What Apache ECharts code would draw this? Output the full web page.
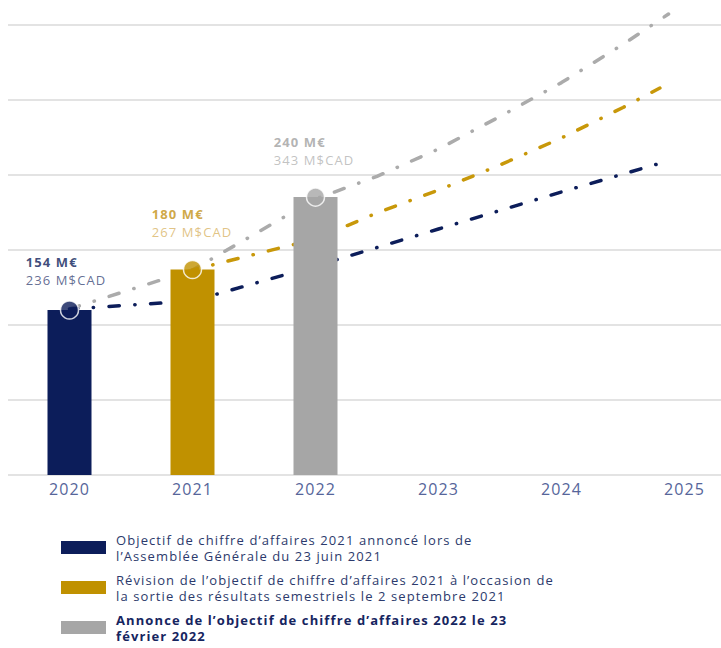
<!DOCTYPE html>
<html>
<head>
<meta charset="utf-8">
<script src="https://cdn.jsdelivr.net/npm/echarts@6/dist/echarts.min.js"></script>
<style>
  html, body { margin: 0; padding: 0; background: #fff; }
  #main { width: 721px; height: 648px; }
  #main text { letter-spacing: 1.1px; }
</style>
</head>
<body>
<div id="main"></div>
<script>
// categories and values (y in chart units, one gridline = 50)
var years = ['2020', '2021', '2022', '2023', '2024', '2025'];
var barValues = [110, 137, 185.3];
var labelEur = ['154 M€', '180 M€', '240 M€'];
var labelCad = ['236 M$CAD', '267 M$CAD', '343 M$CAD'];
var legendNames = [
  'Objectif de chiffre d\u2019affaires 2021 annoncé lors de\nl\u2019Assemblée Générale du 23 juin 2021',
  'Révision de l\u2019objectif de chiffre d\u2019affaires 2021 à l\u2019occasion de\nla sortie des résultats semestriels le 2 septembre 2021',
  'Annonce de l\u2019objectif de chiffre d\u2019affaires 2022 le 23\nfévrier 2022'
];
// trajectories [year, value]
var lineJune = [[2020, 110.7], [2021, 116], [2022, 139.3], [2023, 164], [2024, 188.7], [2024.78, 207.3]];
var lineSept = [[2021, 136.7], [2022, 157.3], [2022.5, 174.7], [2023, 189.9], [2023.5, 206.7], [2024, 224.7], [2024.5, 245], [2024.8, 258]];
var lineFeb = [[2020, 110.7], [2021, 136.7], [2022, 184], [2022.5, 199.1], [2023, 217.3], [2023.5, 239], [2024, 261.6], [2024.5, 287.1], [2024.87, 307.3]];

var colors = ['#0c1d5a', '#c09100', '#a6a6a6'];
var lineColors = ['#0c1d5a', '#c8980a', '#ababab'];
var eurColors = ['#0c1d5a', '#c39214', '#a0a0a0'];
var cadColors = ['#3b4878', '#d9b466', '#b3b3b3'];
var labelPos = [[-34, -47], [-31, -55], [-32, -54]];
var dashShift = [1.5, 5, 0];

var myChart = echarts.init(document.getElementById('main'), null, { renderer: 'svg' });

var barData = barValues.map(function (v, i) {
  return { value: v, itemStyle: { color: colors[i] } };
});
var dotData = barValues.map(function (v, i) {
  return {
    value: v,
    itemStyle: { color: colors[i] },
    label: {
      show: true,
      position: labelPos[i],
      align: 'left',
      verticalAlign: 'top',
      formatter: '{a|' + labelEur[i] + '}\n{b|' + labelCad[i] + '}',
      rich: {
        a: { fontFamily: 'Open Sans', fontSize: 13, fontWeight: 'bold', color: eurColors[i], lineHeight: 18 },
        b: { fontFamily: 'Open Sans', fontSize: 13, color: cadColors[i], lineHeight: 18 }
      }
    }
  };
});

function makeLine(name, data, i) {
  return {
    name: name,
    type: 'line',
    xAxisIndex: 1,
    data: data,
    z: 1,
    clip: false,
    showSymbol: false,
    symbol: 'none',
    itemStyle: { color: colors[i] },
    lineStyle: {
      color: lineColors[i], width: 3.5, cap: 'round',
      type: [10.3, 15.5, 0.3, 15.5], dashOffset: dashShift[i]
    },
    emphasis: { disabled: true },
    silent: true
  };
}

var option = {
  backgroundColor: '#fff',
  animation: false,
  textStyle: { fontFamily: 'Open Sans' },
  grid: { left: 8, width: 738, top: 25, bottom: 173, outerBoundsMode: 'none', containLabel: false },
  legend: {
    orient: 'vertical',
    left: 61,
    top: 533,
    padding: 0,
    itemGap: 11,
    itemWidth: 45,
    itemHeight: 13,
    icon: 'rect',
    selectedMode: false,
    data: legendNames,
    formatter: function (name) {
      var parts = name.split('\n');
      var tag = name === legendNames[2] ? 'c' : 'n';
      return parts.map(function (p) { return '{' + tag + '|' + p + '}'; }).join('\n');
    },
    textStyle: {
      padding: [0, 0, 0, 5],
      rich: {
        n: { fontFamily: 'Open Sans', fontSize: 13, color: '#2c3a6c', lineHeight: 16 },
        c: { fontFamily: 'Open Sans', fontSize: 13, fontWeight: 'bold', color: '#16255f', lineHeight: 16 }
      }
    }
  },
  xAxis: [{
    type: 'category',
    data: years,
    axisLine: { show: false },
    axisTick: { show: false },
    axisLabel: { color: '#56659a', fontSize: 16, margin: 6, fontFamily: 'Open Sans' }
  }, {
    type: 'value',
    min: 2019.5,
    max: 2025.5,
    show: false
  }],
  yAxis: {
    type: 'value',
    min: 0,
    max: 300,
    interval: 50,
    axisLabel: { show: false },
    axisLine: { show: false },
    axisTick: { show: false },
    splitLine: { lineStyle: { color: '#dadada', width: 1.5 } }
  },
  series: [
    makeLine(legendNames[2], lineFeb, 2),
    makeLine(legendNames[1], lineSept, 1),
    makeLine(legendNames[0], lineJune, 0),
    {
      type: 'bar',
      data: barData,
      barWidth: 44,
      z: 2,
      silent: true
    },
    {
      type: 'scatter',
      data: dotData,
      symbolSize: 18,
      z: 3,
      silent: true,
      itemStyle: { borderColor: '#fff', borderWidth: 1.5 }
    }
  ]
};
myChart.setOption(option);
</script>
</body>
</html>
